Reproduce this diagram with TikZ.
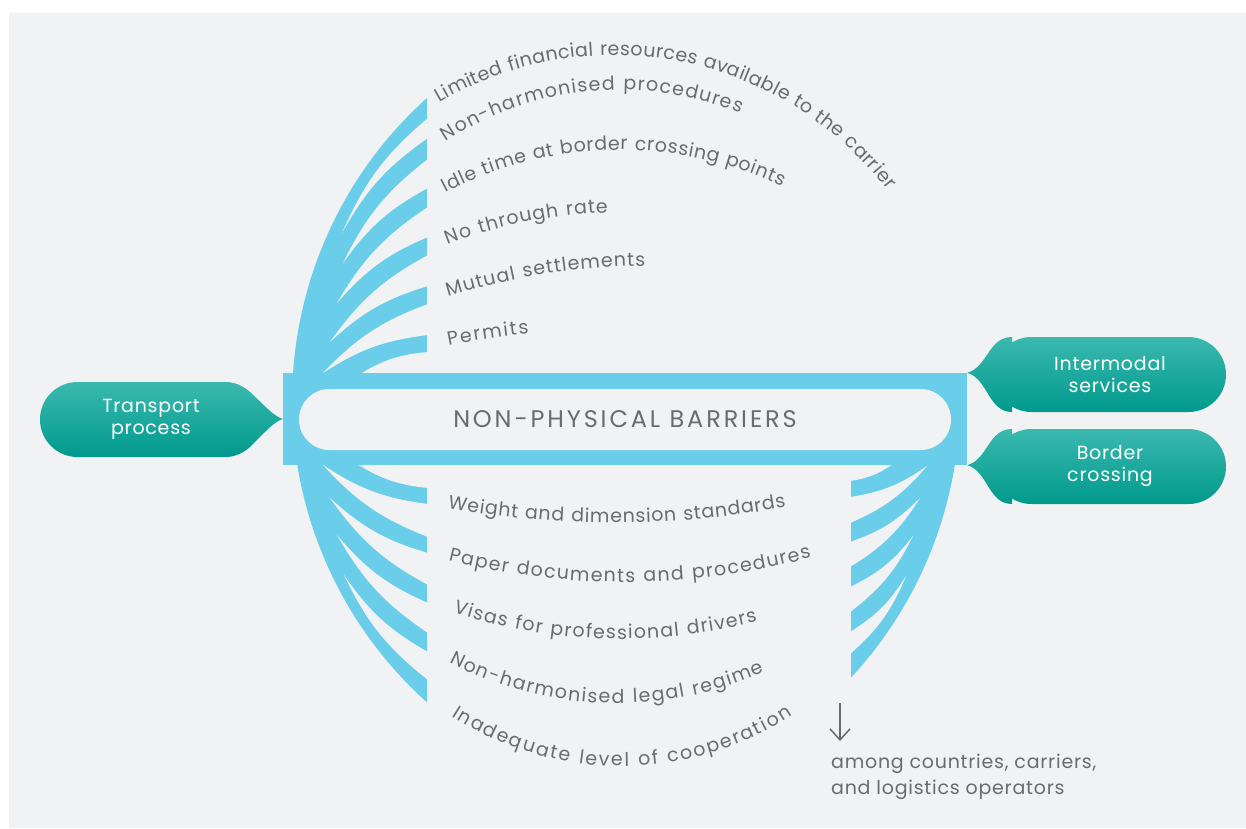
\documentclass[tikz,border=0pt]{standalone}
\usepackage{fontspec}
\setmainfont{Poppins}
\newfontfamily\lblfont[LetterSpace=4]{Poppins}
\newfontfamily\capfont[LetterSpace=12]{Poppins}
\usetikzlibrary{shapes.misc, arrows.meta, positioning, calc, decorations.text}
\definecolor{pagegray}{HTML}{F1F2F4}
\definecolor{fanblue}{HTML}{6ACDE9}
\definecolor{inkgray}{HTML}{6A6B6E}
\definecolor{tealtop}{HTML}{3BB9AF}
\definecolor{tealbot}{HTML}{00998C}
\newcommand{\lbltrack}{1pt}
\newcommand{\lbl}{\lblfont\fontsize{19}{23}\selectfont\kern\lbltrack}

\begin{document}
\begin{tikzpicture}[x=1pt, y=1pt,
  fan/.style={fill=fanblue},
  gap/.style={fill=pagegray},
  callout/.style={rounded rectangle, minimum width=232pt, minimum height=75pt, inner sep=0pt,
    top color=tealtop, bottom color=tealbot, text=white, align=center,
    font=\lblfont\fontsize{19}{22}\selectfont},
  tail/.style={top color=tealtop, bottom color=tealbot},
  curved/.style={decorate, decoration={text along path, text align=left, text color=inkgray, text={|\lbl|#1}}},
  track/.style={/utils/exec={\renewcommand{\lbltrack}{#1}}},
]
  \useasboundingbox (0,0) rectangle (1246,-828);
  \fill[white] (0,0) rectangle (1246,-828);
  \fill[pagegray] (9,-13) rectangle (1246,-828);

  % left fan
  \fill[fan] (427,-98) arc[start angle=131.9, end angle=228.1, radius=406] -- cycle;
  \foreach \tx/\ty/\ya/\yb in {342/233/118/138, 343/263/159/188, 337/303/207/237, 330/342/255/286, 323/373/304/335}
    \fill[gap] (\tx,-\ty) to[bend left=13] (428,-\ya) -- (428,-\yb) to[bend right=13] (\tx,-\ty) -- cycle;
  \fill[gap] (360,-374) to[bend left=13] (428,-352) -- (428,-374) -- cycle;
  \foreach \tx/\ty/\ya/\yb in {323/465/504/537, 330/498/553/585, 337/535/603/633, 344/575/652/680}
    \fill[gap] (\tx,-\ty) to[bend right=13] (428,-\ya) -- (428,-\yb) to[bend left=13] (\tx,-\ty) -- cycle;
  \fill[gap] (357,-464) -- (428,-464) -- (428,-488) to[bend left=13] (357,-464) -- cycle;

  % right fan
  \begin{scope}
    \clip (851,-465) rectangle (980,-700);
    \fill[fan] (851,-465) -- (954.8,-465) arc[start angle=-9.17, end angle=-42.87, radius=408] -- cycle;
    \foreach \tx/\ty/\ya/\yb in {927/466/497/523, 920/498/542/567, 913/536/587/612, 906/576/632/654}
      \fill[gap] (\tx,-\ty) to[bend left=13] (850,-\ya) -- (850,-\yb) to[bend right=13] (\tx,-\ty) -- cycle;
    \fill[gap] (893,-464) -- (850,-464) -- (850,-481) to[bend right=13] (893,-464) -- cycle;
  \end{scope}

  \node[fill=fanblue, minimum width=684pt, minimum height=92pt, inner sep=0pt] (bar) at (625,-419) {};
  \node[rounded rectangle, fill=pagegray, minimum width=652pt, minimum height=61pt, inner sep=0pt,
    text=inkgray, font=\capfont\fontsize{24}{28}\selectfont] (barrier) at (625,-419.5) {NON-PHYSICAL BARRIERS};

  \node[callout, minimum width=222pt] (transport) at (151,-419.5) {Transport\\process};
  \node[callout] (intermodal) at (1110,-374.5) {Intermodal\\services};
  \node[callout] (border) at (1110,-466.5) {Border\\crossing};

  \shade[tail] (transport.north) -- (transport.north) (transport.south) -- (transport.south)
    ($(transport.center)+(73.5,37.5)$) .. controls +(26,0) and +(-18,6) .. (bar.west)
    .. controls +(-18,-6) and +(26,0) .. ($(transport.center)+(73.5,-37.5)$) -- cycle;
  \shade[tail] (intermodal.north) -- (intermodal.north) (intermodal.south) -- (intermodal.south)
    ($(intermodal.center)+(-98,37.5)$) .. controls +(-24,0) and +(21,6) .. (bar.north east)
    .. controls +(21,-6) and +(-24,0) .. ($(intermodal.center)+(-98,-37.5)$) -- cycle;
  \shade[tail] (border.north) -- (border.north) (border.south) -- (border.south)
    ($(border.center)+(-98,37.5)$) .. controls +(-24,0) and +(21,6) .. (bar.south east)
    .. controls +(21,-6) and +(-24,0) .. ($(border.center)+(-98,-37.5)$) -- cycle;

  % labels along the fans
  \path[track=0.4pt, curved={Limited financial resources available to the carrier}] (439,-103) arc[start angle=120.6, end angle=25, radius=344];
  \path[track=1.2pt, curved={Non-harmonised procedures}] (445,-142) arc[start angle=123.3, end angle=45, radius=318];
  \path[track=0.6pt, curved={Idle time at border crossing points}] (445,-193) arc[start angle=117.6, end angle=35, radius=378];
  \path[track=0.9pt, curved={No through rate}] (447,-245) arc[start angle=111.3, end angle=75, radius=477];
  \path[track=1pt, curved={Mutual settlements}] (447,-297) arc[start angle=107.4, end angle=75, radius=680];
  \path[track=1.7pt, curved={Permits}] (447,-346) arc[start angle=102, end angle=85, radius=700];
  \path[track=0.7pt, curved={Weight and dimension standards}] (447,-508) arc[start angle=-100.1, end angle=-65, radius=948];
  \path[track=1.3pt, curved={Paper documents and procedures}] (447,-560) arc[start angle=-104.2, end angle=-55, radius=723];
  \path[track=1.2pt, curved={Visas for professional drivers}] (452,-612) arc[start angle=-108.2, end angle=-55, radius=540];
  \path[track=1.4pt, curved={Non-harmonised legal regime}] (448,-662) arc[start angle=-117.5, end angle=-45, radius=365];
  \path[track=1.8pt, curved={Inadequate level of cooperation}] (450,-715) arc[start angle=-123.2, end angle=-40, radius=313];

  \coordinate (arrtop) at (840,-703);
  \coordinate (arrbot) at (840,-741);
  \draw[inkgray, line width=1.5pt, -{Straight Barb[length=11pt, width=20pt]}] (arrtop) -- (arrbot);
  \node[anchor=north west, inner sep=0pt, align=left, text=inkgray, font=\lblfont\fontsize{19}{26}\selectfont] (note) at (831,-754)
    {among countries, carriers,\\and logistics operators};
\end{tikzpicture}
\end{document}
